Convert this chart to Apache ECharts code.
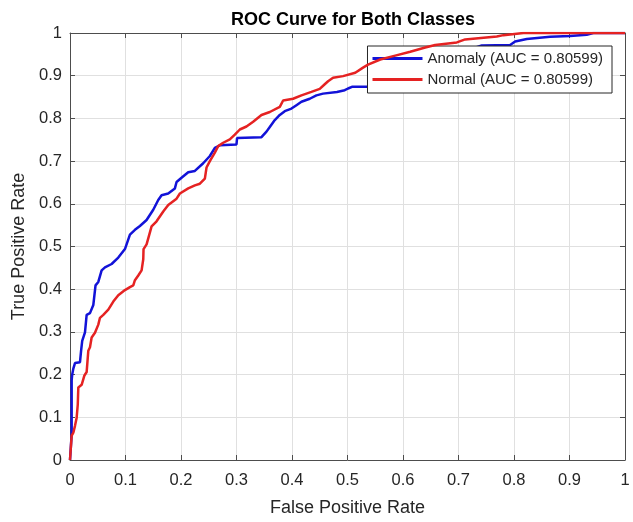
<!DOCTYPE html>
<html>
<head>
<meta charset="utf-8">
<script src="https://cdn.jsdelivr.net/npm/echarts@6/dist/echarts.min.js"></script>
<style>html,body{margin:0;padding:0;background:#fff;}#c{width:633px;height:522px;}</style>
</head>
<body>
<div id="c"></div>
<script>
const titleText = 'ROC Curve for Both Classes';
const xName = 'False Positive Rate';
const yName = 'True Positive Rate';
const seriesNames = ['Anomaly (AUC = 0.80599)', 'Normal (AUC = 0.80599)'];

const anomalyFPR = [0,0.003,0.003,0.004,0.006,0.009,0.018,0.02,0.022,0.027,0.03,0.036,0.042,0.046,0.051,0.057,0.063,0.075,0.087,0.099,0.108,0.117,0.126,0.138,0.15,0.159,0.165,0.177,0.189,0.192,0.202,0.213,0.225,0.24,0.252,0.261,0.27,0.3,0.301,0.345,0.354,0.36,0.369,0.378,0.387,0.399,0.408,0.417,0.432,0.444,0.456,0.481,0.495,0.501,0.508,0.537,0.568,0.595,0.631,0.667,0.703,0.742,0.793,0.802,0.823,0.865,0.901,0.931,0.943,1];
const anomalyTPR = [0,0.06,0.187,0.2,0.214,0.227,0.229,0.256,0.279,0.299,0.34,0.344,0.363,0.409,0.417,0.444,0.451,0.459,0.474,0.494,0.528,0.539,0.548,0.562,0.586,0.609,0.62,0.624,0.636,0.651,0.662,0.674,0.677,0.695,0.712,0.731,0.737,0.739,0.754,0.756,0.769,0.78,0.796,0.808,0.817,0.823,0.831,0.839,0.846,0.854,0.858,0.862,0.866,0.87,0.874,0.874,0.878,0.892,0.91,0.933,0.954,0.971,0.972,0.98,0.986,0.991,0.993,0.996,1,1];

const normalFPR = [0,0.003,0.006,0.009,0.012,0.014,0.015,0.021,0.026,0.03,0.033,0.036,0.039,0.045,0.051,0.054,0.06,0.069,0.078,0.087,0.099,0.108,0.114,0.117,0.123,0.129,0.132,0.1325,0.138,0.147,0.156,0.168,0.177,0.192,0.198,0.213,0.225,0.234,0.243,0.246,0.252,0.261,0.267,0.276,0.288,0.297,0.306,0.318,0.33,0.345,0.36,0.378,0.384,0.402,0.417,0.435,0.45,0.459,0.465,0.474,0.492,0.514,0.528,0.537,0.559,0.586,0.613,0.64,0.658,0.697,0.712,0.769,0.781,0.817,1];
const normalTPR = [0,0.057,0.064,0.08,0.099,0.13,0.17,0.176,0.198,0.206,0.256,0.264,0.287,0.298,0.317,0.333,0.34,0.352,0.371,0.386,0.398,0.405,0.409,0.421,0.432,0.444,0.47,0.494,0.505,0.547,0.559,0.582,0.597,0.612,0.624,0.636,0.643,0.647,0.659,0.685,0.7,0.72,0.735,0.743,0.751,0.762,0.774,0.781,0.792,0.808,0.815,0.827,0.842,0.846,0.854,0.862,0.869,0.88,0.887,0.895,0.899,0.907,0.919,0.926,0.938,0.947,0.956,0.966,0.972,0.978,0.985,0.992,0.995,1,1];

const ticks = [0,0.1,0.2,0.3,0.4,0.5,0.6,0.7,0.8,0.9,1];

function pairs(xs, ys){ return xs.map((x,i)=>[x, ys[i]]); }
const fmt = v => (Math.round(v*10)/10).toString();

const textColor = '#262626';
const axisColor = '#4d4d4d';
const font = 'Liberation Sans, Arial, Helvetica, sans-serif';

function axisBase(pos, show){
  return {
    type:'value', position:pos, min:ticks[0], max:ticks[ticks.length-1], interval:0.1,
    axisLine:{show:true, onZero:false, lineStyle:{color:axisColor, width:1}},
    axisTick:{show:true, inside:true, length:5, lineStyle:{color:axisColor}},
    axisLabel:{show:show, color:textColor, fontSize:16.5, fontFamily:font, formatter:fmt},
    splitLine:{show:show, lineStyle:{color:'#e0e0e0', width:1}}
  };
}

const x1 = axisBase('bottom', true);
x1.name = xName; x1.nameLocation='middle'; x1.nameGap=39;
x1.nameTextStyle={color:textColor, fontSize:18, fontFamily:font};
x1.axisLabel.margin = 12;
const x2 = axisBase('top', false);
const y1 = axisBase('left', true);
y1.name = yName; y1.nameLocation='middle'; y1.nameGap=35;
y1.nameTextStyle={color:textColor, fontSize:18, fontFamily:font};
y1.axisLabel.margin = 8;
const y2 = axisBase('right', false);

const chart = echarts.init(document.getElementById('c'), null, {renderer:'canvas'});
chart.setOption({
  backgroundColor:'#fff',
  animation:false,
  title:{text:titleText, left:348, textAlign:'center', top:6,
    textStyle:{fontSize:18, fontWeight:'bold', color:'#000', fontFamily:font}},
  grid:{left:70, right:8, top:33, bottom:54, containLabel:false},
  xAxis:[x1, x2],
  yAxis:[y1, y2],
  legend:{
    orient:'vertical', right:21, top:46,
    backgroundColor:'#fff', borderColor:'#262626', borderWidth:1,
    padding:[5,9,6,5], itemGap:6, itemWidth:50, itemHeight:3,
    icon:'rect',
    textStyle:{color:textColor, fontSize:15, fontFamily:font},
    data:seriesNames
  },
  series:[
    {name:seriesNames[0], type:'line', xAxisIndex:0, yAxisIndex:0, showSymbol:false, symbol:'none',
     lineStyle:{color:'#1212d8', width:2.5}, itemStyle:{color:'#1212d8'},
     data:pairs(anomalyFPR, anomalyTPR), z:3},
    {name:seriesNames[1], type:'line', xAxisIndex:0, yAxisIndex:0, showSymbol:false, symbol:'none',
     lineStyle:{color:'#e52222', width:2.5}, itemStyle:{color:'#e52222'},
     data:pairs(normalFPR, normalTPR), z:4}
  ]
});
</script>
</body>
</html>
